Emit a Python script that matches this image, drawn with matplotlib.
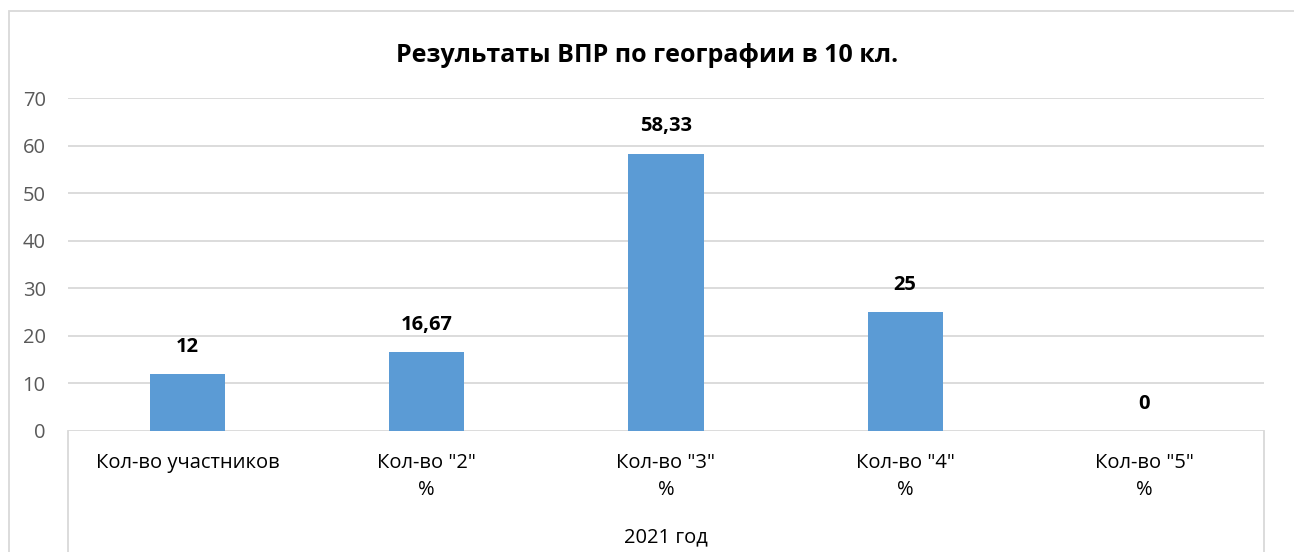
import matplotlib
matplotlib.use("Agg")
import matplotlib.pyplot as plt
from matplotlib.lines import Line2D
from matplotlib.patches import Rectangle

plt.rcParams['font.family'] = ['Open Sans', 'DejaVu Sans']

# данные
categories = ['Кол-во участников', 'Кол-во "2"\n%', 'Кол-во "3"\n%',
              'Кол-во "4"\n%', 'Кол-во "5"\n%']
values = [12, 16.67, 58.33, 25, 0]
group_label = "2021 год"
title = "Результаты ВПР по географии в 10 кл."
yticks = [0, 10, 20, 30, 40, 50, 60, 70]

BAR = "#5B9BD5"
GRID = "#D9D9D9"
TXT = "#595959"
FS = 14.5


def fmt(v):
    s = f"{v:.2f}".rstrip("0").rstrip(".")
    return s.replace(".", ",")


W, H = 1294, 552
fig = plt.figure(figsize=(W / 100, H / 100), dpi=100)
ax = fig.add_axes([68 / W, 121 / H, 1196 / W, 333 / H])

x = list(range(len(values)))
ax.bar(x, values, width=0.315, color=BAR, zorder=3)
ax.set_xlim(-0.5, len(values) - 0.5)
ax.set_ylim(0, 70)
ax.set_yticks(yticks)
ax.set_yticklabels([str(t) for t in yticks], fontsize=FS, color=TXT)
ax.tick_params(axis="y", length=0, pad=16)
ax.set_xticks([])
ax.grid(axis="y", color=GRID, linewidth=1.3, zorder=0)
for s in ax.spines.values():
    s.set_visible(False)

for xi, v in zip(x, values):
    ax.annotate(fmt(v), (xi, v), xytext=(0, 19.5), textcoords="offset points",
                ha="center", va="center", fontsize=FS, fontweight="bold",
                color="black")

# подписи категорий
for xi, lab in zip(x, categories):
    ax.annotate(lab, (xi, 0), xytext=(0, -15.5), textcoords="offset points",
                ha="center", va="top", fontsize=FS, color="black",
                linespacing=1.5, annotation_clip=False)

fig.text((68 + 1264) / 2 / W, 1 - 537 / H, group_label, ha="center",
         va="center", fontsize=FS, color="black")

# рамки многоуровневой оси
for xp in (68, 1264):
    fig.add_artist(Line2D([xp / W, xp / W], [0, 121 / H], color=GRID,
                          linewidth=1.3, transform=fig.transFigure))

# внешняя рамка диаграммы
fig.add_artist(Rectangle((9 / W, -0.05), 1.1, 1 - 11 / H + 0.05,
                         transform=fig.transFigure, fill=False,
                         edgecolor=GRID, linewidth=1.3))

fig.text(0.5, 1 - 55 / H, title, ha="center", va="center", fontsize=18,
         fontweight="bold", color="black")

fig.savefig("out.png", dpi=100)
